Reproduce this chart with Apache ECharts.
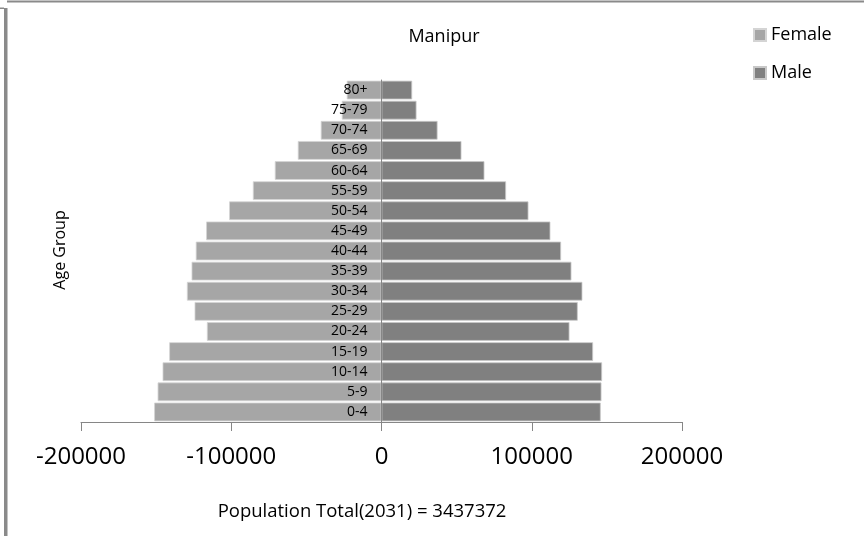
<!DOCTYPE html>
<html>
<head>
<meta charset="utf-8">
<script src="https://cdn.jsdelivr.net/npm/echarts@6/dist/echarts.min.js"></script>
<style>html,body{margin:0;padding:0;background:#fff;}#c{width:864px;height:536px;}</style>
</head>
<body>
<div id="c"></div>
<script>
var ageGroups = ['0-4','5-9','10-14','15-19','20-24','25-29','30-34','35-39','40-44','45-49','50-54','55-59','60-64','65-69','70-74','75-79','80+'];
var female = [-151300,-149000,-145700,-141300,-116200,-124400,-129500,-126400,-123600,-116700,-101400,-85600,-71000,-55700,-40400,-26400,-23100];
var male = [145900,146400,146800,140800,125100,130600,133700,126400,119500,112400,97800,82900,68500,53200,37300,23300,20400];
var xTicks = { min: -200000, max: 200000, interval: 100000 };
var chartTitle = 'Manipur';
var subTitle = 'Population Total(2031) = 3437372';
var yName = 'Age Group';

var FONT = '"Open Sans", "Noto Sans", sans-serif';
var chart = echarts.init(document.getElementById('c'), null, { renderer: 'canvas' });
chart.setOption({
  animation: false,
  backgroundColor: '#ffffff',
  textStyle: { fontFamily: FONT },
  title: [
    { text: chartTitle, left: 439, top: 23, textAlign: 'center',
      textStyle: { fontFamily: FONT, fontSize: 18, fontWeight: 'normal', color: '#000' } },
    { text: subTitle, left: 357, top: 497, textAlign: 'center',
      textStyle: { fontFamily: FONT, fontSize: 18.5, fontWeight: 'normal', color: '#000' } }
  ],
  legend: {
    orient: 'vertical', left: 748, top: 21, itemWidth: 12, itemHeight: 12, itemGap: 20,
    icon: 'rect',
    textStyle: { fontFamily: FONT, fontSize: 18, color: '#000' },
    data: ['Female', 'Male']
  },
  grid: { left: 81, right: 182, top: 80, bottom: 114, containLabel: false },
  xAxis: {
    type: 'value', min: xTicks.min, max: xTicks.max, interval: xTicks.interval,
    axisLine: { show: true, lineStyle: { color: '#868686', width: 1 } },
    axisTick: { show: true, length: 9, lineStyle: { color: '#868686' } },
    splitLine: { show: false },
    axisLabel: { fontFamily: FONT, fontSize: 24, color: '#000', margin: 23,
      formatter: function (v) { return String(v); } }
  },
  yAxis: {
    type: 'category', data: ageGroups, z: 10, position: 'left', offset: -300.5,
    axisLine: { show: true, onZero: false, lineStyle: { color: '#868686', width: 1 } },
    axisTick: { show: false },
    axisLabel: { fontFamily: FONT, fontSize: 14, color: '#000', margin: 14 }
  },
  graphic: [
    { type: 'text', x: 60, y: 250, rotation: Math.PI / 2,
      style: { text: yName, fontFamily: FONT, fontSize: 16, fill: '#000', align: 'center', verticalAlign: 'middle' } },
    { type: 'rect', shape: { x: 7, y: 0.5, width: 857, height: 2 }, style: { fill: '#8a8a8a' } },
    { type: 'rect', shape: { x: 4, y: 8, width: 3.5, height: 528 }, style: { fill: '#8a8a8a' } },
    { type: 'rect', shape: { x: 0, y: 7.5, width: 4, height: 1.5 }, style: { fill: '#8a8a8a' } }
  ],
  series: [
    { name: 'Female', type: 'bar', stack: 'p', data: female, barCategoryGap: '7%',
      itemStyle: { color: '#a6a6a6', borderColor: '#d4d4d4', borderWidth: 0.8 } },
    { name: 'Male', type: 'bar', stack: 'p', data: male, barCategoryGap: '7%',
      itemStyle: { color: '#808080', borderColor: '#c8c8c8', borderWidth: 0.8 } }
  ]
});
</script>
</body>
</html>
